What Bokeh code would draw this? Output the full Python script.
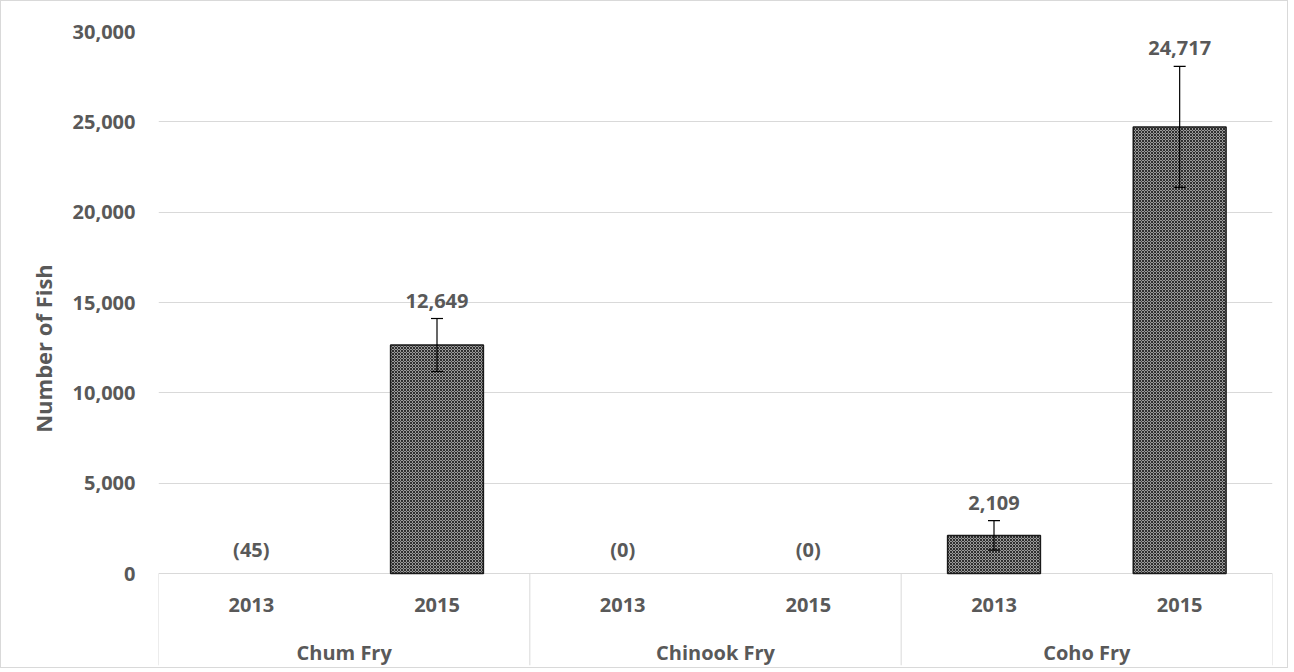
from bokeh.plotting import figure
from bokeh.models import (ColumnDataSource, FactorRange, Range1d, FixedTicker,
                          NumeralTickFormatter, Whisker, TeeHead, CDSView, BooleanFilter)
from bokeh.core.properties import value
from bokeh.embed import file_html
from bokeh.resources import INLINE

# ---- data ----
species = ["Chum Fry", "Chinook Fry", "Coho Fry"]
years = ["2013", "2015"]
counts = [-45, 12649, 0, 0, 2109, 24717]
errors = [0, 1465, 0, 0, 820, 3350]
labels = ["(45)", "12,649", "(0)", "(0)", "2,109", "24,717"]
y_ticks = [0, 5000, 10000, 15000, 20000, 25000, 30000]

TEXT = "#595959"
GRID = "#d9d9d9"
FONT = "Open Sans"

factors = [(s, y) for s in species for y in years]
Y_MAX = 30000
Y_MIN = -Y_MAX * 92 / 542  # room below zero for the category labels

src = ColumnDataSource(dict(
    x=factors,
    top=counts,
    label_y=[max(0, c + e) for c, e in zip(counts, errors)],
    label=labels,
))

err_idx = [i for i, e in enumerate(errors) if e > 0]
err_src = ColumnDataSource(dict(
    x=[factors[i] for i in err_idx],
    upper=[counts[i] + errors[i] for i in err_idx],
    lower=[counts[i] - errors[i] for i in err_idx],
))

p = figure(
    x_range=FactorRange(*factors, factor_padding=0, group_padding=0, range_padding=0),
    y_range=Range1d(Y_MIN, Y_MAX),
    width=1288, height=668,
    output_backend="svg", toolbar_location=None,
    min_border_left=157, min_border_right=17, min_border_top=30, min_border_bottom=4,
)
p.styles = {"border": "1px solid #d9d9d9"}
p.outline_line_color = None
p.background_fill_color = "white"
p.border_fill_color = "white"

# bars (only those with visible height)
view = CDSView(filter=BooleanFilter([c > 0 for c in counts]))
p.vbar(x="x", top="top", bottom=0, width=0.5, source=src, view=view,
       fill_color="#9a9a9a", hatch_pattern="diagonal_cross", hatch_scale=3,
       hatch_weight=1, hatch_color="#2e2e2e",
       line_color="#1a1a1a", line_width=1.5)

# error bars
wh = Whisker(base="x", upper="upper", lower="lower", source=err_src, level="overlay",
             line_color="black", line_width=1.2,
             upper_head=TeeHead(size=12, line_color="black", line_width=1.2),
             lower_head=TeeHead(size=12, line_color="black", line_width=1.2))
p.add_layout(wh)

# value labels
p.text(x="x", y="label_y", text="label", source=src,
       text_font=value(FONT), text_font_style="bold", text_font_size="20px",
       text_color=TEXT, text_align="center", text_baseline="bottom",
       y_offset=-11)

# category labels below the zero line
year_src = ColumnDataSource(dict(x=factors, t=[f[1] for f in factors], y=[0] * len(factors)))
p.text(x="x", y="y", text="t", source=year_src,
       text_font=value(FONT), text_font_style="bold", text_font_size="20px",
       text_color=TEXT, text_align="center", text_baseline="middle", y_offset=31)
sp_src = ColumnDataSource(dict(x=species, t=species, y=[0] * len(species)))
p.text(x="x", y="y", text="t", source=sp_src,
       text_font=value(FONT), text_font_style="bold", text_font_size="20px",
       text_color=TEXT, text_align="center", text_baseline="middle", y_offset=79)

# separators between category groups
edges = [(species[0], years[0], -0.5)] + [(s, years[-1], 0.5) for s in species]
sep_src = ColumnDataSource(dict(x=edges, y0=[0] * len(edges), y1=[Y_MIN] * len(edges)))
p.segment(x0="x", x1="x", y0="y0", y1="y1", source=sep_src,
          line_color=GRID, line_width=1)

# axes
p.xaxis.visible = False
p.xgrid.grid_line_color = None
p.ygrid.ticker = FixedTicker(ticks=y_ticks)
p.ygrid.grid_line_color = GRID
p.ygrid.grid_line_width = 1

ya = p.yaxis[0]
ya.ticker = FixedTicker(ticks=y_ticks)
ya.formatter = NumeralTickFormatter(format="0,0")
ya.axis_line_color = None
ya.major_tick_line_color = None
ya.minor_tick_line_color = None
ya.major_label_standoff = 17
ya.major_label_text_font = FONT
ya.major_label_text_font_style = "bold"
ya.major_label_text_font_size = "20px"
ya.major_label_text_color = TEXT
ya.axis_label = "Number of Fish"
ya.axis_label_text_font = FONT
ya.axis_label_text_font_style = "bold"
ya.axis_label_text_font_size = "22px"
ya.axis_label_text_color = TEXT
ya.axis_label_standoff = 12

open("out.html", "w").write(file_html(p, INLINE))
